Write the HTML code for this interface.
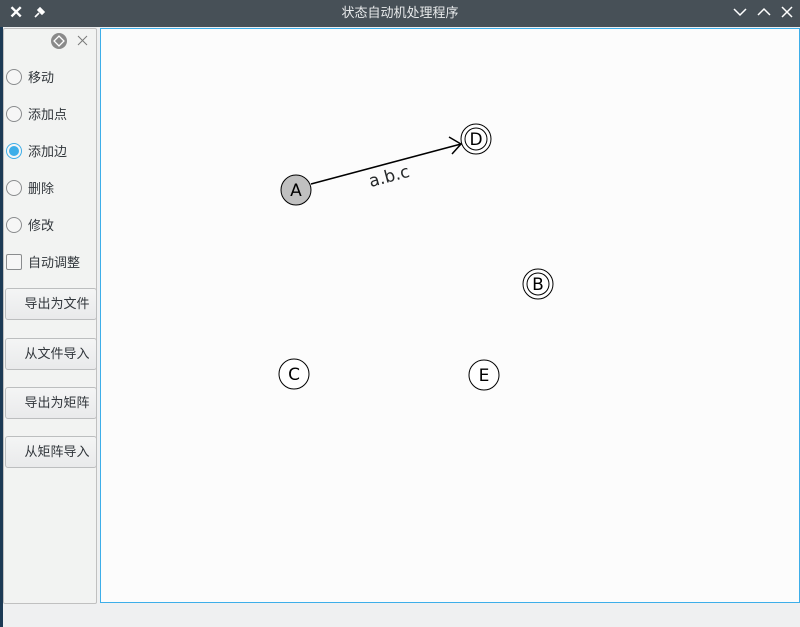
<!DOCTYPE html>
<html><head><meta charset="utf-8"><style>
body{margin:0;width:800px;height:627px;overflow:hidden;background:#eff0f1;font-family:"Liberation Sans","Noto Sans CJK SC",sans-serif;position:relative}
.abs{position:absolute}
#title{left:0;top:0;width:800px;height:27px;background:#475057;color:#e8eaeb;font-size:13px;text-align:center;line-height:25px}
#desk{left:0;top:27px;width:3px;height:600px;background:#1c3a55}
#panel{left:3px;top:28px;width:92px;height:574px;background:#f2f3f2;border:1px solid #c0c0c0;border-radius:2px}
#canvas{left:100px;top:28px;width:698px;height:573px;background:#fcfcfc;border:1px solid #3daee9}
.radio{width:14px;height:14px;border:1px solid #8a8c8e;border-radius:50%;background:#f6f6f6}
.lbl{font-size:13px;color:#31363b}
.btn{left:5px;width:92px;height:32px;border:1px solid #bcbebf;border-radius:3px;background:linear-gradient(#f4f5f5,#e9eaeb);font-size:13px;color:#31363b;text-align:center;line-height:30px;padding-left:12px;box-sizing:border-box}
</style></head><body>
<div class="abs" id="title">状态自动机处理程序</div>
<div class="abs" style="left:9px;top:3px;color:#fff;font-size:17px;font-weight:bold">✕</div>
<svg class="abs" style="left:33px;top:5px" width="14" height="14">
<path d="M2,12 L6,8 M5,5 L9,9 M7,3 L11,7 L9,9 L5,5 Z" stroke="#fff" stroke-width="1.6" fill="#fff"/>
</svg>
<svg class="abs" style="left:730px;top:5px" width="70" height="16">
<polyline points="4,4 10,10 16,4" fill="none" stroke="#fff" stroke-width="1.5"/>
<polyline points="28,10 34,4 40,10" fill="none" stroke="#fff" stroke-width="1.5"/>
<path d="M52,2 L62,12 M62,2 L52,12" stroke="#fff" stroke-width="1.5"/>
</svg>
<div class="abs" id="desk"></div>
<div class="abs" id="panel"></div>
<svg class="abs" style="left:50px;top:32px" width="45" height="18">
<circle cx="9" cy="9" r="8" fill="#8a8a8a"/><rect x="5.5" y="5.5" width="7" height="7" transform="rotate(45 9 9)" fill="none" stroke="#fff" stroke-width="1.3"/>
<path d="M28,4 L37,13 M37,4 L28,13" stroke="#7a7a7a" stroke-width="1"/>
</svg>
<div class="abs radio" style="left:6px;top:69px"></div><div class="abs lbl" style="left:28px;top:67px">移动</div>
<div class="abs radio" style="left:6px;top:106px"></div><div class="abs lbl" style="left:28px;top:104px">添加点</div>
<div class="abs radio" style="left:6px;top:143px;border-color:#3daee9"><div class="abs" style="left:2px;top:2px;width:10px;height:10px;border-radius:50%;background:#3daee9"></div></div><div class="abs lbl" style="left:28px;top:141px">添加边</div>
<div class="abs radio" style="left:6px;top:180px"></div><div class="abs lbl" style="left:28px;top:178px">删除</div>
<div class="abs radio" style="left:6px;top:217px"></div><div class="abs lbl" style="left:28px;top:215px">修改</div>
<div class="abs" style="left:6px;top:254px;width:14px;height:14px;border:1px solid #8a8c8e;border-radius:2px;background:#f6f6f6"></div><div class="abs lbl" style="left:28px;top:252px">自动调整</div>
<div class="abs btn" style="top:288px">导出为文件</div>
<div class="abs btn" style="top:338px">从文件导入</div>
<div class="abs btn" style="top:387px">导出为矩阵</div>
<div class="abs btn" style="top:436px">从矩阵导入</div>
<div class="abs" id="canvas"></div>
<svg class="abs" style="left:0;top:0" width="800" height="627" font-family="DejaVu Sans,sans-serif" font-size="17">
<line x1="311" y1="184" x2="461" y2="144" stroke="#000" stroke-width="1.5"/>
<polyline points="449,137 461,144 452,154" fill="none" stroke="#000" stroke-width="1.5"/>
<text x="389" y="182" text-anchor="middle" fill="#232627" transform="rotate(-15 389 176)">a.b.c</text>
<g><circle cx="296" cy="190" r="15" fill="#c0c0c0" stroke="#000"/><text x="296" y="196" text-anchor="middle">A</text></g>
<g><circle cx="476" cy="139" r="15" fill="#fff" stroke="#000"/><circle cx="476" cy="139" r="11" fill="none" stroke="#000"/><text x="476" y="145" text-anchor="middle">D</text></g>
<g><circle cx="538" cy="284" r="15" fill="#fff" stroke="#000"/><circle cx="538" cy="284" r="11" fill="none" stroke="#000"/><text x="538" y="290" text-anchor="middle">B</text></g>
<g><circle cx="294" cy="374" r="15" fill="#fff" stroke="#000"/><text x="294" y="380" text-anchor="middle">C</text></g>
<g><circle cx="484" cy="375" r="15" fill="#fff" stroke="#000"/><text x="484" y="381" text-anchor="middle">E</text></g>
</svg>
</body></html>
